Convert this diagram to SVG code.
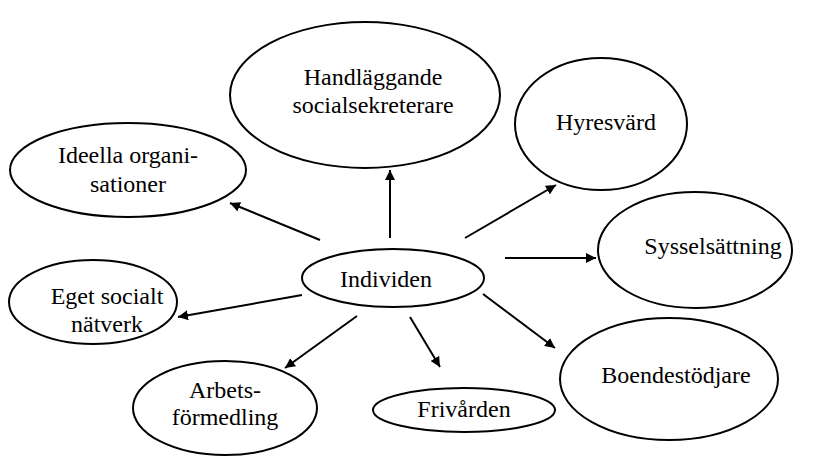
<svg xmlns="http://www.w3.org/2000/svg" width="820" height="475" viewBox="0 0 820 475">
<defs>
<marker id="ah" viewBox="0 0 10 10" refX="10" refY="5" markerWidth="10" markerHeight="10" markerUnits="userSpaceOnUse" orient="auto">
<path d="M0,0 L10,5 L0,10 z" fill="#000"/>
</marker>
<style>
.n ellipse{fill:#fff;stroke:#000;stroke-width:2}
.n text{font-family:"Liberation Serif","Times New Roman",serif;font-size:24px;text-anchor:middle;fill:#000}
.c line{stroke:#000;stroke-width:2;marker-end:url(#ah)}
</style>
</defs>
<rect width="820" height="475" fill="#fff"/>
<g id="handl" class="n"><ellipse cx="365" cy="95" rx="135" ry="73"/><text x="373" y="85">Handläggande</text><text x="373" y="113">socialsekreterare</text></g>
<g id="hyres" class="n"><ellipse cx="601" cy="124" rx="86" ry="66"/><text x="606" y="130">Hyresvärd</text></g>
<g id="ideella" class="n"><ellipse cx="128" cy="170" rx="118" ry="47"/><text x="128" y="163">Ideella organi-</text><text x="128" y="192">sationer</text></g>
<g id="syssel" class="n"><ellipse cx="695" cy="250" rx="97" ry="58"/><text x="713" y="254">Sysselsättning</text></g>
<g id="individen" class="n"><ellipse cx="393" cy="278" rx="91" ry="29"/><text x="386" y="287">Individen</text></g>
<g id="eget" class="n"><ellipse cx="93" cy="302" rx="84" ry="42"/><text x="107" y="304">Eget socialt</text><text x="107" y="332">nätverk</text></g>
<g id="boende" class="n"><ellipse cx="669" cy="379" rx="109" ry="61"/><text x="676" y="383">Boendestödjare</text></g>
<g id="arbets" class="n"><ellipse cx="225" cy="408" rx="92" ry="47"/><text x="225" y="398">Arbets-</text><text x="225" y="425">förmedling</text></g>
<g id="frivarden" class="n"><ellipse cx="464" cy="410" rx="91" ry="22"/><text x="464" y="417">Frivården</text></g>
<g id="connectors" class="c">
<line x1="320" y1="240" x2="230" y2="203"/>
<line x1="390" y1="238" x2="390" y2="170"/>
<line x1="465" y1="238" x2="556" y2="185"/>
<line x1="505" y1="258" x2="596" y2="258"/>
<line x1="483" y1="294" x2="555" y2="348"/>
<line x1="302" y1="295" x2="178" y2="317"/>
<line x1="357" y1="316" x2="285" y2="368"/>
<line x1="410" y1="317" x2="440" y2="367"/>
</g>
</svg>
